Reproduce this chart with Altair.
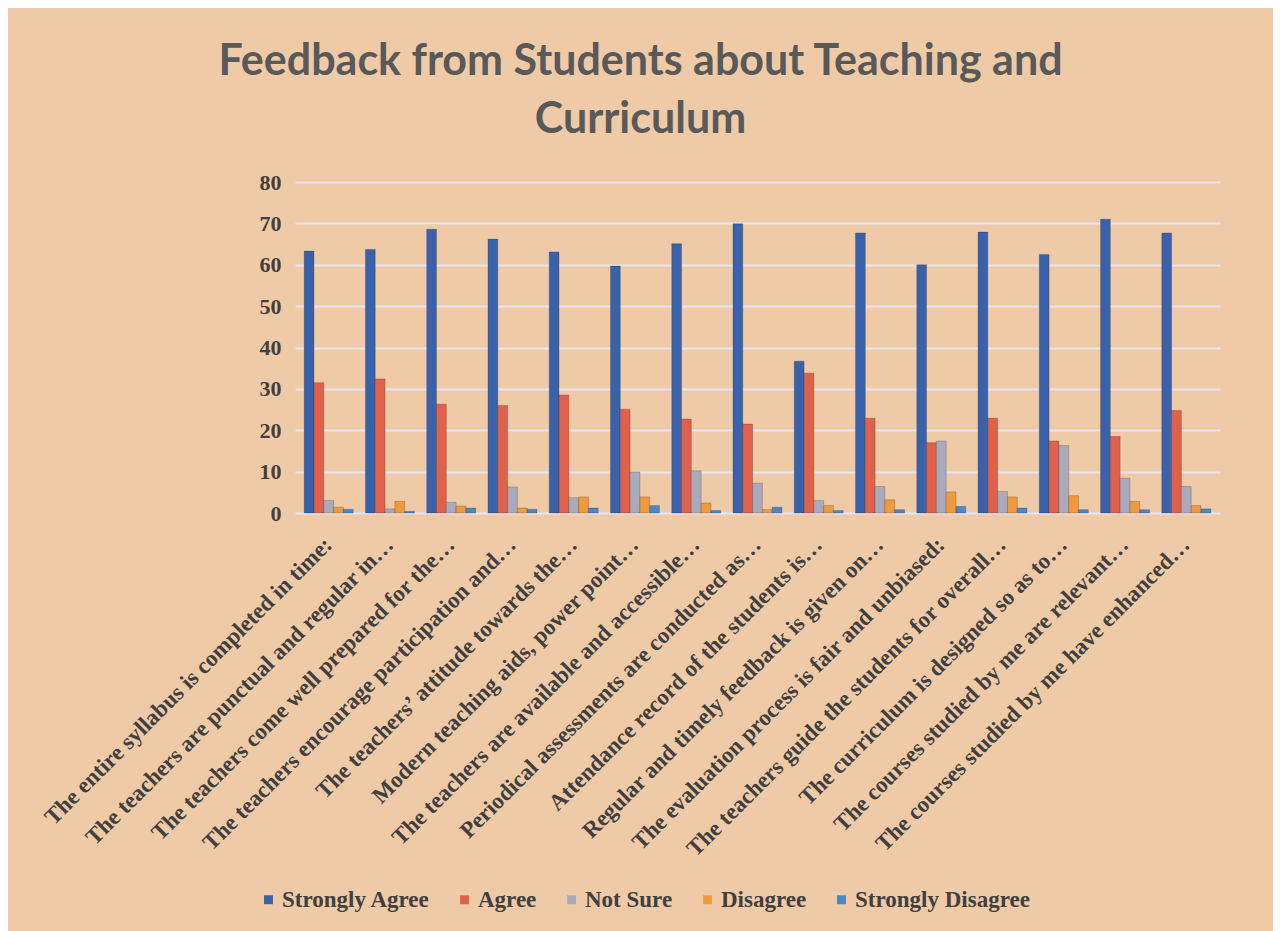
import altair as alt
import pandas as pd

categories = [
    "The entire syllabus is completed in time:",
    "The teachers are punctual and regular in…",
    "The teachers come well prepared for the…",
    "The teachers encourage participation and…",
    "The teachers’ attitude towards the…",
    "Modern teaching aids, power point…",
    "The teachers are available and accessible…",
    "Periodical assessments are conducted as…",
    "Attendance record of the students is…",
    "Regular and timely feedback is given on…",
    "The evaluation process is fair and unbiased:",
    "The teachers guide the students for overall…",
    "The curriculum is designed so as to…",
    "The courses studied by me are relevant…",
    "The courses studied by me have enhanced…",
]

series = ["Strongly Agree", "Agree", "Not Sure", "Disagree", "Strongly Disagree"]
colors = ["#3A62AA", "#E0614B", "#ABAABB", "#F09A3E", "#4A86C8"]

strongly_agree = [63.3, 63.7, 68.6, 66.2, 63.1, 59.7, 65.1, 69.9, 36.7, 67.7, 60.0, 67.9, 62.5, 71.0, 67.7]
agree = [31.5, 32.4, 26.3, 26.0, 28.5, 25.1, 22.7, 21.5, 33.8, 22.9, 17.0, 22.9, 17.4, 18.5, 24.8]
not_sure = [3.0, 1.0, 2.6, 6.3, 3.7, 9.9, 10.2, 7.2, 3.0, 6.4, 17.4, 5.2, 16.3, 8.4, 6.4]
disagree = [1.4, 2.8, 1.7, 1.2, 3.9, 3.9, 2.4, 0.8, 1.8, 3.2, 5.1, 3.9, 4.2, 2.8, 1.8]
strongly_disagree = [0.9, 0.4, 1.2, 0.9, 1.2, 1.8, 0.6, 1.4, 0.6, 0.8, 1.6, 1.2, 0.8, 0.8, 1.0]

values = [strongly_agree, agree, not_sure, disagree, strongly_disagree]
rows = []
for s, vals in zip(series, values):
    for c, v in zip(categories, vals):
        rows.append({"Statement": c, "Response": s, "Value": v})
df = pd.DataFrame(rows)

bars = alt.Chart(df).mark_bar(stroke="#00000030", strokeWidth=1).encode(
    x=alt.X("Statement:N", sort=categories, title=None,
            scale=alt.Scale(paddingInner=0.2, paddingOuter=0.15),
            axis=alt.Axis(labelAngle=-45, labelLimit=0, labelPadding=20,
                          labelOffset=-8,
                          labelFont="Liberation Serif", labelFontWeight="bold",
                          labelFontSize=23, labelColor="#404040",
                          domain=False, ticks=False, grid=False)),
    xOffset=alt.XOffset("Response:N", sort=series, scale=alt.Scale(paddingInner=0)),
    y=alt.Y("Value:Q", title=None,
            scale=alt.Scale(domain=[0, 80]),
            axis=alt.Axis(values=[0, 10, 20, 30, 40, 50, 60, 70, 80],
                          labelFont="Liberation Serif", labelFontWeight="bold",
                          labelFontSize=22, labelColor="#404040", labelPadding=14,
                          domain=False, ticks=False,
                          gridColor="#E9E4F2", gridWidth=2)),
    color=alt.Color("Response:N", sort=series,
                    scale=alt.Scale(domain=series, range=colors),
                    legend=alt.Legend(title=None, orient="none", direction="horizontal",
                                      legendX=-38, legendY=706,
                                      symbolType="square", symbolSize=80,
                                      symbolStrokeWidth=0,
                                      labelFont="Liberation Serif", labelFontWeight="bold",
                                      labelFontSize=23, labelColor="#404040",
                                      labelLimit=0, labelOffset=2, columnPadding=23)),
)

chart = bars.properties(
    width=925,
    height=331,
    background="#EFCAA7",
    padding={"left": 287, "top": 174, "right": 53, "bottom": 418},
    autosize=alt.AutoSizeParams(type="none"),
    title=alt.TitleParams(
        text=["Feedback from Students about Teaching and", "Curriculum"],
        font="Lato", fontWeight="bold", fontSize=43, color="#595959",
        anchor="middle", dx=-117, offset=29, lineHeight=58,
    ),
).configure_view(stroke=None)

chart.save("out.html", embed_options={"renderer": "svg", "actions": False})
